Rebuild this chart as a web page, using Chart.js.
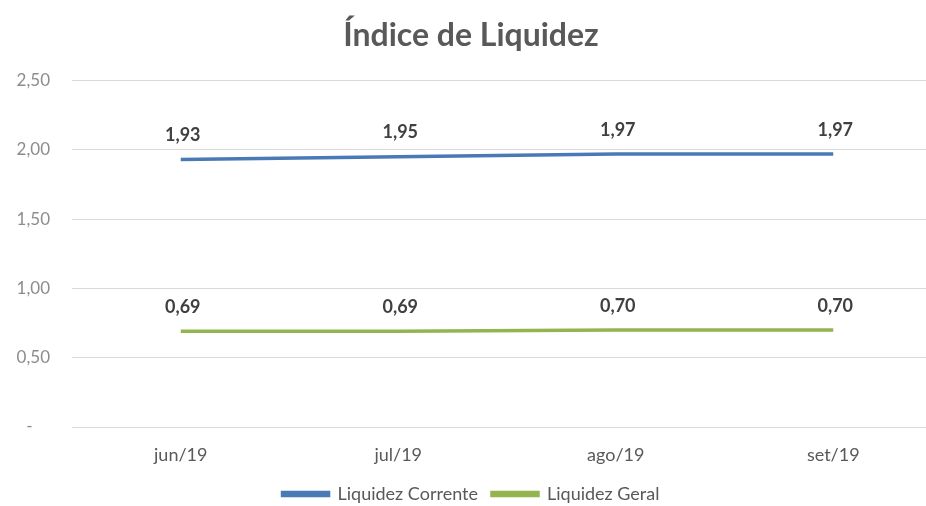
<!DOCTYPE html>
<html>
<head>
<meta charset="utf-8">
<script src="https://cdn.jsdelivr.net/npm/chart.js@4/dist/chart.umd.min.js"></script>
<style>
  html, body { margin: 0; padding: 0; background: #fff; overflow: hidden; }
  #wrap { width: 964px; height: 506px; }
</style>
</head>
<body>
<div id="wrap"><canvas id="liqChart"></canvas></div>
<script>
const months = ['jun/19', 'jul/19', 'ago/19', 'set/19'];
const corrente = [1.93, 1.95, 1.97, 1.97];
const geral = [0.69, 0.69, 0.70, 0.70];
const yTicks = [0, 0.5, 1, 1.5, 2, 2.5];

const blue = '#4a7ab6';
const green = '#93b54f';
const fontFam = 'Lato, "Open Sans", sans-serif';

const fmt = v => v.toFixed(2).replace('.', ',');

// value labels above each point
const valueLabels = {
  id: 'valueLabels',
  afterDatasetsDraw(chart) {
    const ctx = chart.ctx;
    ctx.save();
    ctx.font = 'bold 18px ' + fontFam;
    ctx.fillStyle = '#404040';
    ctx.textAlign = 'center';
    ctx.textBaseline = 'middle';
    chart.data.datasets.forEach((ds, i) => {
      chart.getDatasetMeta(i).data.forEach((pt, j) => {
        ctx.fillText(fmt(ds.data[j]), pt.x + 2, pt.y - 24);
      });
    });
    ctx.restore();
  }
};

new Chart(document.getElementById('liqChart').getContext('2d'), {
  type: 'line',
  data: {
    labels: months,
    datasets: [
      { label: 'Liquidez Corrente', data: corrente, borderColor: blue, backgroundColor: blue,
        borderWidth: 3.5, pointRadius: 0, tension: 0 },
      { label: 'Liquidez Geral', data: geral, borderColor: green, backgroundColor: green,
        borderWidth: 3.5, pointRadius: 0, tension: 0 }
    ]
  },
  options: {
    responsive: true,
    maintainAspectRatio: false,
    animation: false,
    layout: { padding: { left: 0, right: 22, top: 0, bottom: -7 } },
    plugins: {
      title: {
        display: true,
        text: 'Índice de Liquidez',
        color: '#595959',
        font: { family: fontFam, size: 32, weight: 'bold' },
        padding: { top: 16, bottom: 26 }
      },
      legend: {
        position: 'bottom',
        labels: {
          color: '#595959',
          font: { family: fontFam, size: 18 },
          boxWidth: 46,
          boxHeight: 3,
          padding: 14
        }
      },
      tooltip: { enabled: false }
    },
    scales: {
      x: {
        offset: true,
        afterFit: s => { s.height = 44; },
        grid: { display: false, drawTicks: false },
        border: { display: false },
        ticks: { color: '#595959', font: { family: fontFam, size: 18 }, padding: 17 }
      },
      y: {
        min: 0,
        max: 2.5,
        afterBuildTicks: s => { s.ticks = yTicks.map(v => ({ value: v })); },
        afterFit: s => { s.width = 72; },
        grid: { color: '#d9d9d9', drawTicks: false },
        border: { display: false },
        ticks: {
          color: '#8c8c8c',
          font: { family: fontFam, size: 17 },
          padding: 22,
          callback: v => v === 0 ? '-    ' : fmt(v)
        }
      }
    }
  },
  plugins: [valueLabels]
});
</script>
</body>
</html>
